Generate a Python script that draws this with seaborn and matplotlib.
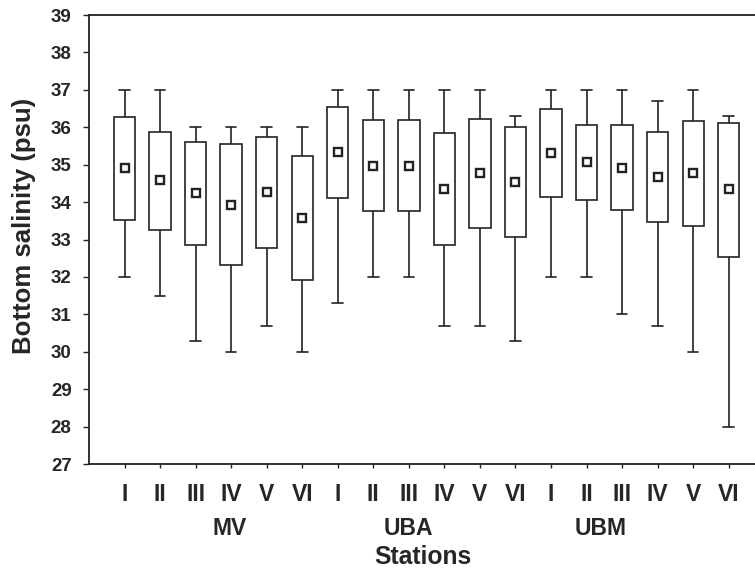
import numpy as np
import pandas as pd
import matplotlib
matplotlib.use("Agg")
import matplotlib.pyplot as plt
import seaborn as sns

# Stations (three groups of six sites)
groups = ["MV", "UBA", "UBM"]
sites = ["I", "II", "III", "IV", "V", "VI"]

# Five-number summaries, one value per station (18 stations)
sal_min = [32.0, 31.5, 30.3, 30.0, 30.7, 30.0,
           31.3, 32.0, 32.0, 30.7, 30.7, 30.3,
           32.0, 32.0, 31.0, 30.7, 30.0, 28.0]
sal_q1 = [33.52, 33.25, 32.84, 32.31, 32.78, 31.91,
          34.12, 33.75, 33.75, 32.85, 33.32, 33.07,
          34.14, 34.06, 33.78, 33.46, 33.36, 32.54]
sal_mean = [34.91, 34.58, 34.24, 33.91, 34.28, 33.57,
            35.34, 34.97, 34.97, 34.34, 34.78, 34.54,
            35.30, 35.07, 34.91, 34.68, 34.78, 34.35]
sal_q3 = [36.27, 35.88, 35.61, 35.54, 35.74, 35.22,
          36.54, 36.19, 36.19, 35.85, 36.22, 36.02,
          36.49, 36.07, 36.06, 35.88, 36.17, 36.12]
sal_max = [37.0, 37.0, 36.0, 36.0, 36.0, 36.0,
           37.0, 37.0, 37.0, 37.0, 37.0, 36.3,
           37.0, 37.0, 37.0, 36.7, 37.0, 36.3]

stations = [f"{g}-{s}" for g in groups for s in sites]

# long table: each station described by its five-number summary
# (min, q1, centre, q3, max) -> with whis=(0, 100) seaborn draws exactly this box
rows = []
for i, st in enumerate(stations):
    for v in (sal_min[i], sal_q1[i], sal_mean[i], sal_q3[i], sal_max[i]):
        rows.append({"station": st, "salinity": v})
df = pd.DataFrame(rows)
means = pd.DataFrame({"station": stations, "salinity": sal_mean})

sns.set_theme(style="ticks")
plt.rcParams["font.family"] = ["Liberation Sans", "DejaVu Sans"]
plt.rcParams["font.weight"] = "bold"

fig = plt.figure(figsize=(7.55, 5.69), dpi=100)
ax = fig.add_axes([89 / 755, 1 - 464 / 569, 1 - 89 / 755, 449 / 569])

edge = "#222222"
sns.boxplot(data=df, x="station", y="salinity", order=stations,
            whis=(0, 100), width=0.6, color="white", linecolor=edge,
            linewidth=1.2, showfliers=False, ax=ax,
            medianprops={"visible": False})

# mean of each station as a small open square
sns.pointplot(data=means, x="station", y="salinity", order=stations,
              errorbar=None, linestyles="none", markers="s",
              markersize=5.5, markeredgewidth=1.7,
              markerfacecolor="white", markeredgecolor=edge,
              color=edge, ax=ax, zorder=5)

ax.set_xlim(-1, 17.74)
ax.set_ylim(27, 39)
ax.set_yticks(np.arange(27, 40, 1))
ax.set_yticklabels([str(v) for v in range(27, 40)], fontsize=13.5,
                   fontweight="bold")
ax.set_xticks(range(len(stations)))
ax.set_xticklabels(sites * len(groups), fontsize=16.5, fontweight="bold")
ax.tick_params(axis="y", length=4, width=1, pad=8.5, color=edge)
ax.tick_params(axis="x", length=3, width=1, pad=10.5, color=edge)

for side in ["left", "top", "bottom"]:
    ax.spines[side].set_color(edge)
    ax.spines[side].set_linewidth(1.3)
ax.spines["right"].set_visible(False)

ax.set_xlabel("")
ax.set_ylabel("Bottom salinity (psu)", fontsize=18.5, fontweight="bold")
ax.yaxis.set_label_coords(-0.08, 0.53)

# group names under the site numerals
group_pos = [2.95, 8.0, 13.4]
for g, xp in zip(groups, group_pos):
    ax.text(xp, -0.143, g, transform=ax.get_xaxis_transform(),
            ha="center", va="center", fontsize=16.5, fontweight="bold")
fig.text(0.56, 1 - 557 / 569, "Stations", ha="center", va="center",
         fontsize=17.8, fontweight="bold")

fig.savefig("out.png", dpi=100)
